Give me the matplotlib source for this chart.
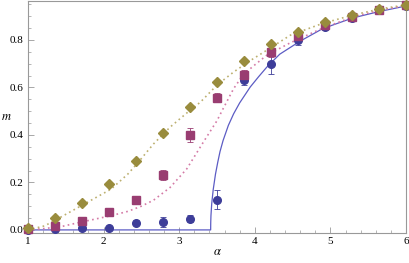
import matplotlib
matplotlib.use("Agg")
import matplotlib.pyplot as plt
from matplotlib.ticker import MultipleLocator

# measured points (alpha, m, error)
alpha = [1.0, 1.357, 1.714, 2.071, 2.429, 2.786, 3.143, 3.5,
         3.857, 4.214, 4.571, 4.929, 5.286, 5.643, 6.0]
m_blue = [0.0, 0.004, 0.008, 0.008, 0.030, 0.034, 0.047, 0.128,
          0.630, 0.700, 0.800, 0.855, 0.893, 0.925, 0.942]
err_blue = [0.005, 0.005, 0.005, 0.006, 0.01, 0.02, 0.015, 0.04,
            0.02, 0.045, 0.02, 0.015, 0.01, 0.008, 0.006]
m_magenta = [0.004, 0.017, 0.038, 0.076, 0.127, 0.231, 0.400, 0.557,
             0.654, 0.748, 0.816, 0.863, 0.897, 0.927, 0.946]
err_magenta = [0.004, 0.006, 0.006, 0.008, 0.01, 0.02, 0.03, 0.02,
               0.02, 0.02, 0.01, 0.01, 0.008, 0.006, 0.005]
m_gold = [0.010, 0.050, 0.114, 0.195, 0.289, 0.407, 0.517, 0.622,
          0.710, 0.782, 0.834, 0.875, 0.905, 0.930, 0.946]
err_gold = [0.004, 0.005, 0.006, 0.008, 0.008, 0.008, 0.008, 0.008,
            0.008, 0.008, 0.006, 0.006, 0.005, 0.005, 0.004]

# theory curves
blue_curve_a = [1.0, 3.416, 3.417, 3.42, 3.43, 3.45, 3.48, 3.51, 3.54, 3.58,
                3.65, 3.72, 3.80, 3.94, 4.05, 4.16, 4.33, 4.60, 4.90, 5.30,
                5.65, 6.0]
blue_curve_m = [0.0, 0.0, 0.03, 0.06, 0.11, 0.17, 0.235, 0.285, 0.33, 0.376,
                0.44, 0.489, 0.535, 0.602, 0.645, 0.686, 0.74, 0.795, 0.848,
                0.893, 0.92, 0.943]
magenta_curve_a = [1.0, 1.22, 1.44, 1.66, 1.88, 2.10, 2.32, 2.50, 2.66, 2.88,
                   3.10, 3.32, 3.50, 3.58, 3.72, 3.85, 4.0, 4.16, 4.47, 4.9,
                   5.3, 5.65, 6.0]
magenta_curve_m = [0.0, 0.006, 0.014, 0.03, 0.045, 0.06, 0.078, 0.10, 0.125,
                   0.179, 0.257, 0.37, 0.46, 0.51, 0.595, 0.655, 0.695, 0.736,
                   0.788, 0.85, 0.897, 0.925, 0.945]
gold_curve_a = [1.0, 1.22, 1.44, 1.66, 1.88, 2.10, 2.32, 2.44, 2.66, 2.88,
                3.14, 3.28, 3.50, 3.72, 3.95, 4.16, 4.47, 4.9, 5.3, 5.65, 6.0]
gold_curve_m = [0.0, 0.017, 0.055, 0.094, 0.133, 0.172, 0.235, 0.278, 0.362,
                0.433, 0.503, 0.538, 0.61, 0.665, 0.715, 0.757, 0.82, 0.87,
                0.905, 0.93, 0.948]

c_blue = "#3d3d99"
c_magenta = "#993d71"
c_gold = "#998c3d"

plt.rcParams["font.family"] = ["Liberation Serif", "DejaVu Serif"]
plt.rcParams["mathtext.fontset"] = "stix"

fig = plt.figure(figsize=(4.09, 2.63), dpi=100)
ax = fig.add_axes([28 / 409, 30 / 263, 378 / 409, 232 / 263])

ax.plot(blue_curve_a, blue_curve_m, color="#5c5cc4", lw=0.9)
ax.plot(magenta_curve_a, magenta_curve_m, color="#d47aa6", lw=1.2,
        linestyle=(0, (1, 2)))
ax.plot(gold_curve_a, gold_curve_m, color="#bdb070", lw=1.2,
        linestyle=(0, (1, 2)))

for m, e, c, mk, ms in [(m_blue, err_blue, c_blue, "o", 5.5),
                        (m_magenta, err_magenta, c_magenta, "s", 5.3),
                        (m_gold, err_gold, c_gold, "D", 5.0)]:
    ax.errorbar(alpha, m, yerr=e, fmt=mk, color=c, ms=ms, mec=c,
                ecolor=c, elinewidth=0.6, capsize=2, capthick=0.6,
                clip_on=False, zorder=3)

ax.set_xlim(1, 6)
ax.set_ylim(-0.013, 0.964)
ax.xaxis.set_major_locator(MultipleLocator(1))
ax.xaxis.set_minor_locator(MultipleLocator(0.2))
ax.yaxis.set_minor_locator(MultipleLocator(0.05))
ax.set_yticks([0.0, 0.2, 0.4, 0.6, 0.8])
ax.set_yticklabels(["0.0", "0.2", "0.4", "0.6", "0.8"])
ax.tick_params(which="both", direction="in", colors="#999999",
               labelcolor="black", labelsize=8, top=False, right=False)
ax.tick_params(which="major", length=4, width=0.6, pad=3)
ax.tick_params(which="minor", length=2, width=0.5)
for s in ax.spines.values():
    s.set_color("#999999")
    s.set_linewidth(0.8)

ax.set_xlabel(r"$\alpha$", fontsize=9, va="center")
ax.set_ylabel(r"$m$", fontsize=9, rotation=0, va="center", ha="center")
ax.xaxis.set_label_coords(0.5, -0.08)
ax.yaxis.set_label_coords(-0.056, 0.5)

fig.savefig("out.png", dpi=100)
